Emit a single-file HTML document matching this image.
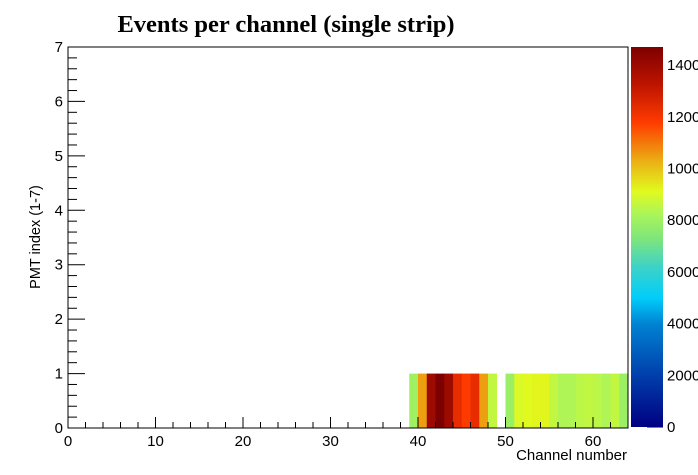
<!DOCTYPE html>
<html><head><meta charset="utf-8"><style>
html,body{margin:0;padding:0;background:#fff;}
svg{display:block;font-family:"Liberation Sans",sans-serif;}
</style></head><body>
<svg id="c" width="698" height="475" xmlns="http://www.w3.org/2000/svg">
<text x="286" y="32" text-anchor="middle" font-family="Liberation Serif,serif" font-weight="bold" font-size="24.5">Events per channel (single strip)</text>
<g id="cells"></g>
<g id="axes"></g>
<defs><linearGradient id="pal" x1="0" y1="1" x2="0" y2="0"></linearGradient></defs>
<rect x="631" y="47" width="32" height="380" fill="url(#pal)"/>
<text x="627" y="460" text-anchor="end" font-size="15">Channel number</text>
<text transform="translate(40,237) rotate(-90)" text-anchor="middle" font-size="14.5">PMT index (1-7)</text>
</svg>
<script>
const channels=[39,40,41,42,43,44,45,46,47,48,50,51,52,53,54,55,56,57,58,59,60,61,62,63];
const counts=[8000,10500,14000,14700,14000,12300,11800,12300,10500,8600,7900,9000,9100,9200,9200,8600,8300,8300,8500,8600,8500,8300,8600,7900];
const pmtRow=0;
const xTicks=[0,10,20,30,40,50,60];
const yTicks=[0,1,2,3,4,5,6,7];
const zTicks=[0,2000,4000,6000,8000,10000,12000,14000];
const zMax=14700;
const X0=68,X1=628,Y0=428,Y1=47;
const sx=v=>X0+(X1-X0)*v/64, sy=v=>Y0-(Y0-Y1)*v/7;
const zy=v=>427-(427-47)*v/zMax;
const stops=[[0,[0,0,130]],[0.13,[0,60,170]],[0.27,[0,130,210]],[0.34,[0,205,250]],[0.42,[60,210,200]],[0.5,[130,230,120]],[0.56,[170,245,90]],[0.62,[225,250,30]],[0.7,[235,175,20]],[0.8,[255,60,0]],[0.9,[190,20,0]],[1,[125,0,0]]];
function col(v){const t=Math.max(0,Math.min(1,v/zMax));for(let i=1;i<stops.length;i++){if(t<=stops[i][0]){const a=stops[i-1],b=stops[i],f=(t-a[0])/(b[0]-a[0]);return 'rgb('+a[1].map((c,k)=>Math.round(c+(b[1][k]-c)*f)).join(',')+')';}}return 'rgb(125,0,0)';}
const NS='http://www.w3.org/2000/svg';
function mk(tag,at,parent){const e=document.createElementNS(NS,tag);for(const k in at)e.setAttribute(k,at[k]);(parent||document.getElementById('c')).appendChild(e);return e;}
const grad=document.getElementById('pal');
stops.forEach(s=>mk('stop',{offset:s[0],'stop-color':'rgb('+s[1].join(',')+')'},grad));
const cells=document.getElementById('cells');
channels.forEach((ch,i)=>{const r=mk('rect',{x:sx(ch),y:sy(pmtRow+1),width:sx(ch+1)-sx(ch)+0.3,height:sy(pmtRow)-sy(pmtRow+1),fill:col(counts[i])},cells);

});
const ax=document.getElementById('axes');
mk('rect',{x:X0,y:Y1,width:X1-X0,height:Y0-Y1,fill:'none',stroke:'#000','stroke-width':1},ax);
for(let v=0;v<=64;v+=2){const x=sx(v);mk('line',{x1:x,x2:x,y1:Y0,y2:Y0-(v%10===0?11:6),stroke:'#000'},ax);}
xTicks.forEach(v=>{const t=mk('text',{x:sx(v),y:Y0+18,'text-anchor':'middle','font-size':15},ax);t.textContent=v;

});
for(let k=0;k<=35;k++){const v=k/5,y=sy(v);mk('line',{x1:X0,x2:X0+(k%5===0?17:9),y1:y,y2:y,stroke:'#000'},ax);}
yTicks.forEach(v=>{const t=mk('text',{x:X0-5,y:sy(v)+5,'text-anchor':'end','font-size':15},ax);t.textContent=v;

});
zTicks.forEach(v=>{const y=zy(v);mk('line',{x1:647,x2:663,y1:y,y2:y,stroke:'#000'},ax);
const t=mk('text',{x:667,y:y+5,'font-size':15},ax);t.textContent=v;

});
</script>
</body></html>
